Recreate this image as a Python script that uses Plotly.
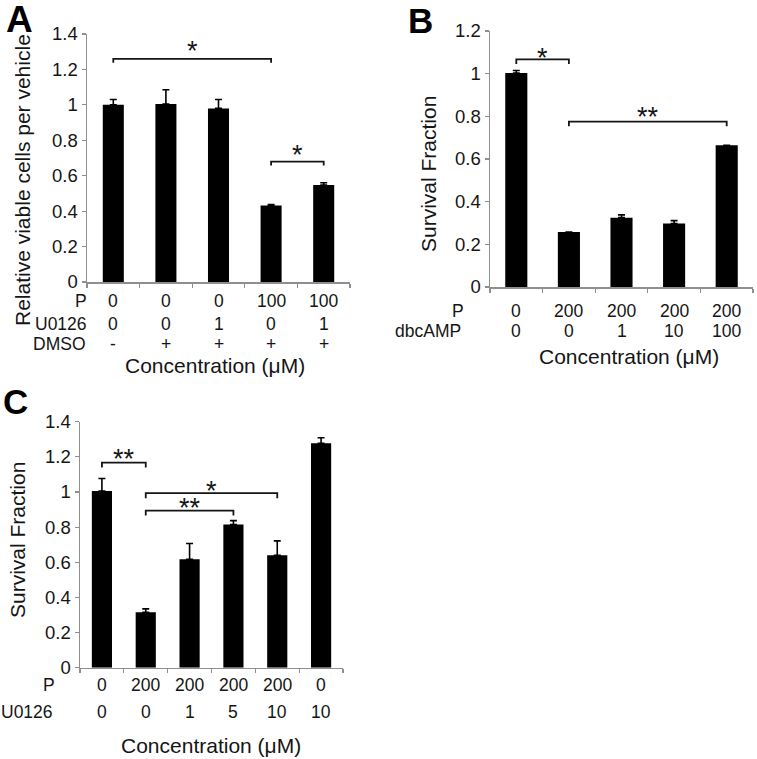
import plotly.graph_objects as go

W, H = 757, 759
FONT = "Liberation Sans, Arial, sans-serif"

# ---------------- data ----------------
a_vals = [1.0, 1.005, 0.98, 0.432, 0.548]
a_err = [0.03, 0.08, 0.05, 0.005, 0.012]
a_P = ["0", "0", "0", "100", "100"]
a_U0126 = ["0", "0", "1", "0", "1"]
a_DMSO = ["-", "+", "+", "+", "+"]

b_vals = [1.003, 0.258, 0.325, 0.298, 0.664]
b_err = [0.012, 0.0, 0.013, 0.013, 0.0]
b_P = ["0", "200", "200", "200", "200"]
b_dbcAMP = ["0", "0", "1", "10", "100"]

c_vals = [1.005, 0.315, 0.617, 0.815, 0.64, 1.277]
c_err = [0.072, 0.02, 0.09, 0.022, 0.082, 0.032]
c_P = ["0", "200", "200", "200", "200", "0"]
c_U0126 = ["0", "0", "1", "5", "10", "10"]

# brackets: (start bar, end bar, height, label)
a_brackets = [(0, 3, 1.26, "*"), (3, 4, 0.68, "*")]
b_brackets = [(0, 1, 1.067, "*"), (1, 4, 0.775, "**")]
c_brackets = [(0, 1, 1.167, "**"), (1, 4, 0.993, "*"), (1, 3, 0.894, "**")]
# star centre above bracket line (px), style only
a_star_off = [12, 11]
b_star_off = [6, 9]
c_star_off = [8.5, 7, 7]


def px_x(p):
    return p / W


def px_y(p):
    return 1 - p / H


fig = go.Figure()
annotations = []
shapes = []
TXT = "#151515"

panels = [
    dict(ax="", vals=a_vals, err=a_err, xd=(87, 350), yd=(34, 282), yr=1.4,
         rows=[("P", a_P, 301, 89), ("U0126", a_U0126, 324, 89), ("DMSO", a_DMSO, 344, 88)],
         brackets=a_brackets, soff=a_star_off, bw=0.4,
         ytitle="Relative viable cells per vehicle", ytx=23, yty=180,
         xt_x=215, xt_y=365, bl=0.022),
    dict(ax="2", vals=b_vals, err=b_err, xd=(490, 753), yd=(31, 287), yr=1.2,
         rows=[("P", b_P, 311, 466), ("dbcAMP", b_dbcAMP, 331, 463)],
         brackets=b_brackets, soff=b_star_off, bw=0.42,
         ytitle="Survival Fraction", ytx=428, yty=174,
         xt_x=629, xt_y=356, bl=0.022),
    dict(ax="3", vals=c_vals, err=c_err, xd=(80, 343), yd=(421.7, 667.7), yr=1.4,
         rows=[("P", c_P, 685, 57), ("U0126", c_U0126, 712, 55)],
         brackets=c_brackets, soff=c_star_off, bw=0.46,
         ytitle="Survival Fraction", ytx=17, yty=540,
         xt_x=211, xt_y=745, bl=0.028),
]

axis_color = "#8f8f8f"
for p in panels:
    n = len(p["vals"])
    xs = list(range(n))
    xa = "x" + p["ax"]
    ya = "y" + p["ax"]
    fig.add_trace(go.Bar(
        x=xs, y=p["vals"], width=p["bw"], marker=dict(color="black", line=dict(width=0)),
        error_y=dict(type="data", array=p["err"], arrayminus=[0] * n, symmetric=False,
                     color="black", thickness=1.6, width=3.5),
        xaxis=xa, yaxis=ya, showlegend=False, hoverinfo="skip"))
    xkey = "xaxis" + p["ax"]
    ykey = "yaxis" + p["ax"]
    nt = int(round(p["yr"] / 0.2)) + 1
    fig.layout[xkey] = dict(
        domain=[px_x(p["xd"][0]), px_x(p["xd"][1])], range=[-0.5, n - 0.5],
        anchor=ya, showgrid=False, zeroline=False, showline=True, automargin=False,
        linecolor=axis_color, linewidth=1.5, ticks="outside", ticklen=4,
        tickcolor=axis_color, tickwidth=1.2,
        tickvals=[k - 0.5 for k in range(n + 1)], showticklabels=False, fixedrange=True)
    fig.layout[ykey] = dict(
        domain=[px_y(p["yd"][1]), px_y(p["yd"][0])], range=[0, p["yr"]],
        anchor=xa, showgrid=False, zeroline=False, showline=True, automargin=False,
        linecolor=axis_color, linewidth=1.5, ticks="outside", ticklen=4,
        tickcolor=axis_color, tickwidth=1.2,
        tickvals=[round(0.2 * k, 1) for k in range(nt)],
        ticktext=[("%g" % round(0.2 * k, 1)) for k in range(nt)],
        tickfont=dict(family=FONT, size=18.5, color=TXT), fixedrange=True)

    for label, vals, ypix, rx in p["rows"]:
        annotations.append(dict(
            x=px_x(rx), y=px_y(ypix), xref="paper", yref="paper", text=label,
            showarrow=False, xanchor="right", yanchor="middle",
            font=dict(family=FONT, size=17.5, color=TXT)))
        for i, v in enumerate(vals):
            annotations.append(dict(
                x=i, y=px_y(ypix), xref=xa, yref="paper", text=v,
                showarrow=False, xanchor="center", yanchor="middle",
                font=dict(family=FONT, size=17.5, color=TXT)))
    annotations.append(dict(
        x=px_x(p["xt_x"]), y=px_y(p["xt_y"]), xref="paper", yref="paper",
        text="Concentration (\u03bcM)", showarrow=False, xanchor="center", yanchor="middle",
        font=dict(family=FONT, size=21, color=TXT)))
    annotations.append(dict(
        x=px_x(p["ytx"]), y=px_y(p["yty"]), xref="paper", yref="paper",
        text=p["ytitle"], showarrow=False, xanchor="center", yanchor="middle",
        textangle=-90, font=dict(family=FONT, size=21, color=TXT)))
    for (s, e, h, lab), off in zip(p["brackets"], p["soff"]):
        d = p["bl"]
        shapes.append(dict(
            type="path", xref=xa, yref=ya,
            path=f"M {s},{h - d} L {s},{h} L {e},{h} L {e},{h - d}",
            line=dict(color=TXT, width=1.8)))
        annotations.append(dict(
            x=(s + e) / 2, y=h, xref=xa, yref=ya, text=lab, showarrow=False,
            xanchor="center", yanchor="bottom", yshift=off - 21.5,
            font=dict(family=FONT, size=27, color=TXT)))

for letter, xp, yp, sz in [("A", 19, 19, 37), ("B", 420, 21, 35), ("C", 15, 401, 35)]:
    annotations.append(dict(
        x=px_x(xp), y=px_y(yp), xref="paper", yref="paper", text="<b>%s</b>" % letter,
        showarrow=False, xanchor="center", yanchor="middle",
        font=dict(family=FONT, size=sz, color="black")))

fig.update_layout(
    width=W, height=H, margin=dict(l=0, r=0, t=0, b=0, pad=0, autoexpand=False),
    paper_bgcolor="white", plot_bgcolor="white",
    annotations=annotations, shapes=shapes, bargap=0.6,
    font=dict(family=FONT), hovermode=False,
)

fig.write_html(
    "out.html",
    config={"displayModeBar": False, "staticPlot": True},
    post_script="document.body.style.margin='0';document.body.style.overflow='hidden';",
)
